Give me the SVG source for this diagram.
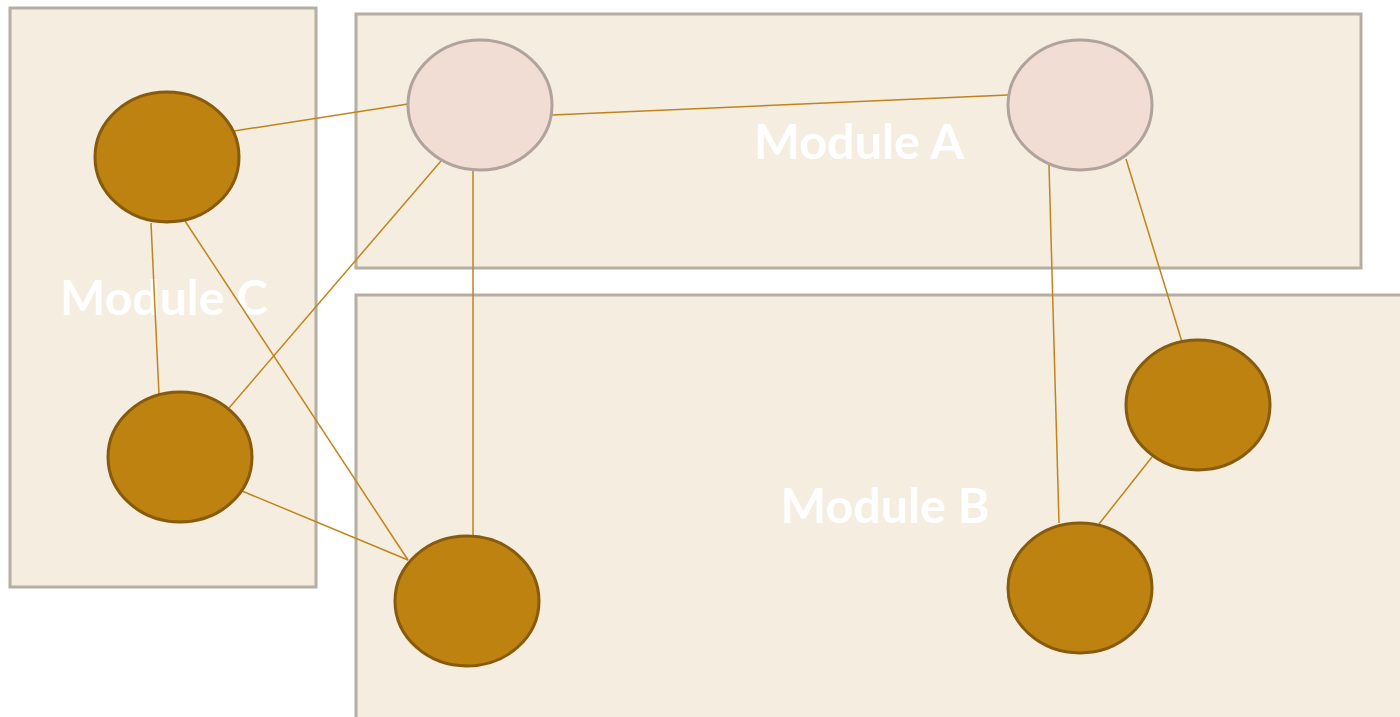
<svg xmlns="http://www.w3.org/2000/svg" width="1400" height="717" viewBox="0 0 1400 717">
  <style>
    .mod { fill: #f4ede0; stroke: #b6aea2; stroke-width: 3; }
    .lbl { fill: #ffffff; font-family: Lato, "Open Sans", "Liberation Sans", sans-serif; font-weight: bold; font-size: 47px; text-anchor: middle; }
    .dark { fill: #bd8210; stroke: #875b0b; stroke-width: 3; }
    .light { fill: #f2ddd5; stroke: #b0a29c; stroke-width: 3; }
    .edge { stroke: #c0841a; stroke-width: 1.5; fill: none; }
  </style>
  <rect width="1400" height="717" fill="#ffffff"/>
  <g id="moduleC">
    <rect class="mod" x="10" y="8" width="306" height="579"/>
    <text class="lbl" x="164" y="315" textLength="208" lengthAdjust="spacingAndGlyphs">Module C</text>
  </g>
  <g id="moduleA">
    <rect class="mod" x="356" y="14" width="1005" height="254"/>
    <text class="lbl" x="859" y="159" textLength="210" lengthAdjust="spacingAndGlyphs">Module A</text>
  </g>
  <g id="moduleB">
    <rect class="mod" x="356" y="295" width="1060" height="440"/>
    <text class="lbl" x="885" y="523" textLength="209" lengthAdjust="spacingAndGlyphs">Module B</text>
  </g>
  <g id="connectors">
    <line class="edge" x1="234" y1="131" x2="408" y2="104"/>
    <line class="edge" x1="552" y1="115" x2="1008" y2="95"/>
    <line class="edge" x1="441" y1="161" x2="229" y2="408"/>
    <line class="edge" x1="473" y1="171" x2="473" y2="535"/>
    <line class="edge" x1="151" y1="223" x2="159" y2="395"/>
    <line class="edge" x1="185" y1="221" x2="408" y2="560"/>
    <line class="edge" x1="242" y1="491" x2="408" y2="560"/>
    <line class="edge" x1="1049" y1="165" x2="1059" y2="523"/>
    <line class="edge" x1="1126" y1="159" x2="1182" y2="342"/>
    <line class="edge" x1="1152" y1="457" x2="1099" y2="524"/>
  </g>
  <g id="nodeC1"><ellipse class="dark" cx="167" cy="157" rx="72" ry="65"/></g>
  <g id="nodeC2"><ellipse class="dark" cx="180" cy="457" rx="72" ry="65"/></g>
  <g id="nodeA1"><ellipse class="light" cx="480" cy="105" rx="72" ry="65"/></g>
  <g id="nodeA2"><ellipse class="light" cx="1080" cy="105" rx="72" ry="65"/></g>
  <g id="nodeB1"><ellipse class="dark" cx="467" cy="601" rx="72" ry="65"/></g>
  <g id="nodeB2"><ellipse class="dark" cx="1198" cy="405" rx="72" ry="65"/></g>
  <g id="nodeB3"><ellipse class="dark" cx="1080" cy="588" rx="72" ry="65"/></g>
</svg>
